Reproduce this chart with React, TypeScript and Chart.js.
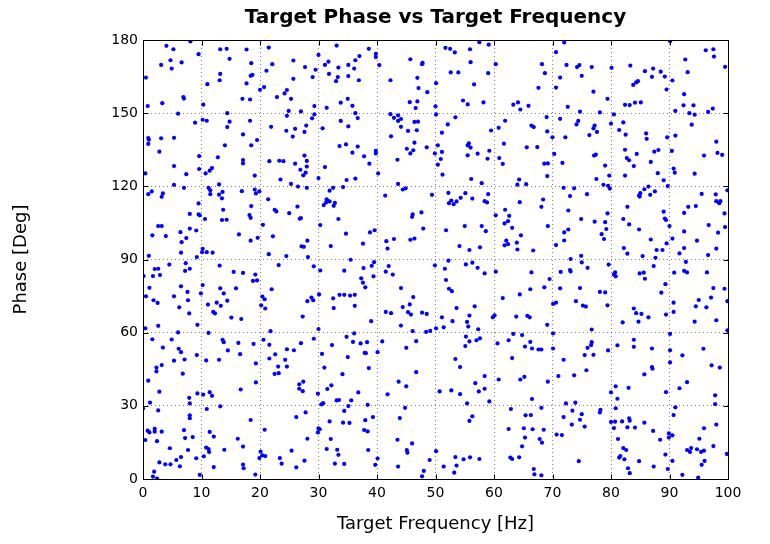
import React, { useEffect, useRef } from "react";
import { Chart, registerables } from "chart.js";

Chart.register(...registerables);

type P = [number, number];

const TITLE = "Target Phase vs Target Frequency";
const X_TITLE = "Target Frequency [Hz]";
const Y_TITLE = "Phase [Deg]";
const xTicks = [0, 10, 20, 30, 40, 50, 60, 70, 80, 90, 100];
const yTicks = [0, 30, 60, 90, 120, 150, 180];

// [frequency Hz, phase deg], grouped by region of the plot (top row = 120..180 deg)
const topBand0to25: P[] = [[4.0,177.6],[8.1,179.4],[5.2,176.2],[9.5,174.2],[4.7,171.7],[3.1,169.8],[6.6,170.8],[4.9,168.3],[0.5,164.6],[6.9,156.6],[7.0,156.0],[3.3,154.1],[0.8,152.9],[13.2,176.2],[14.3,176.4],[17.7,176.1],[14.8,172.3],[18.5,170.5],[13.2,166.1],[18.4,165.3],[18.7,165.7],[13.1,163.5],[11.0,161.9],[17.7,162.2],[17.0,155.9],[18.3,155.6],[10.3,153.5],[21.5,176.9],[22.1,170.1],[21.1,167.4],[20.0,159.6],[20.7,160.7],[22.9,156.6],[24.2,158.1],[24.6,159.5],[6.0,149.8],[8.9,146.1],[0.9,139.8],[1.0,139.1],[0.9,137.4],[3.1,139.7],[5.3,139.9],[2.8,134.2],[9.6,132.4],[5.3,128.3],[0.4,125.3],[7.4,125.0],[9.6,127.1],[5.3,120.6],[10.2,147.3],[10.9,146.9],[14.4,150.0],[14.8,146.5],[14.4,144.3],[18.3,146.9],[17.1,141.3],[19.5,139.0],[18.5,136.8],[14.0,136.8],[12.8,131.9],[17.1,130.8],[17.1,129.4],[11.8,127.5],[11.4,126.4],[10.7,125.3],[13.0,120.8],[19.1,124.4],[21.9,144.4],[24.6,148.9],[24.5,142.8],[21.6,130.3],[23.3,130.5],[24.0,130.3],[23.5,122.8]];
const topBand25to50: P[] = [[24.9,150.9],[25.3,155.9],[25.7,171.6],[25.7,164.1],[27.7,168.9],[29.0,164.8],[29.5,167.8],[30.0,173.9],[29.3,152.9],[27.0,150.7],[33.1,177.7],[31.1,169.8],[31.7,171.1],[33.4,168.7],[31.8,166.1],[33.3,164.8],[33.0,163.1],[35.1,169.8],[35.1,165.2],[36.3,171.7],[37.0,173.4],[36.1,168.3],[36.9,163.5],[38.6,176.4],[39.8,174.3],[39.8,173.0],[40.4,169.7],[31.4,152.2],[33.8,154.3],[35.0,155.9],[35.8,153.0],[36.3,150.0],[36.7,148.0],[33.8,146.8],[35.1,144.6],[30.7,143.8],[28.9,147.9],[27.9,144.9],[29.3,149.5],[27.6,142.3],[26.0,143.6],[25.6,140.4],[33.6,136.5],[34.7,137.2],[36.7,136.3],[35.8,133.8],[37.8,132.3],[38.7,129.3],[39.8,133.5],[39.8,134.5],[31.1,127.9],[30.0,123.4],[27.6,132.6],[26.0,129.3],[28.0,130.4],[28.0,128.1],[26.9,126.8],[27.8,125.6],[27.4,124.5],[25.3,121.0],[34.8,122.6],[36.3,123.2],[40.2,125.3],[42.3,163.5],[45.7,172.1],[47.7,170.1],[47.8,170.6],[46.9,164.5],[47.1,160.3],[48.6,158.6],[45.6,154.5],[46.9,154.8],[46.6,152.1],[42.3,149.6],[42.9,148.1],[43.6,149.1],[44.1,147.6],[43.6,146.8],[44.1,144.4],[46.4,146.4],[47.0,146.5],[45.3,142.7],[46.8,143.0],[42.4,140.5],[46.4,137.9],[48.5,136.0],[45.1,135.4],[46.2,134.8],[45.7,133.5],[43.5,130.9],[43.6,121.0]];
const topBand50to75: P[] = [[50.1,162.3],[50.0,152.8],[51.7,176.8],[52.5,176.4],[53.3,174.9],[55.9,176.2],[57.5,179.1],[59.1,178.1],[56.0,170.9],[52.6,166.7],[53.9,166.7],[59.0,166.4],[56.6,161.8],[54.7,155.2],[55.5,153.6],[58.2,154.4],[60.3,170.1],[68.2,170.1],[68.7,166.4],[67.6,160.4],[64.1,154.4],[63.3,153.5],[64.5,151.5],[65.9,153.0],[72.0,179.0],[70.6,175.0],[72.4,169.8],[74.6,169.7],[74.2,168.9],[75.0,165.3],[71.3,164.6],[70.6,160.5],[72.6,152.6],[74.7,150.6],[50.1,149.5],[53.4,148.3],[52.1,145.4],[51.1,142.0],[50.4,136.8],[51.1,134.1],[49.9,133.5],[50.9,131.2],[50.4,128.9],[51.2,124.8],[55.5,136.8],[55.7,137.6],[56.0,135.9],[55.5,132.7],[57.2,133.4],[56.1,123.0],[57.9,121.3],[58.9,131.3],[59.2,134.6],[59.5,142.9],[60.8,144.0],[61.9,146.9],[61.7,137.5],[60.9,131.6],[61.5,129.2],[65.6,136.0],[66.4,144.9],[66.8,144.3],[67.4,136.1],[69.0,148.4],[69.1,142.5],[70.0,140.1],[68.6,129.3],[69.2,129.4],[69.1,124.2],[64.3,122.8],[64.0,120.7],[65.5,120.9],[71.3,147.7],[72.2,140.1],[74.4,146.8],[74.1,145.4],[70.3,133.3],[71.7,129.6]];
const topBand75to100: P[] = [[76.7,168.9],[80.1,168.6],[77.0,158.8],[79.4,155.9],[78.1,150.3],[80.5,149.5],[90.1,179.5],[83.3,169.5],[85.8,167.2],[87.2,168.3],[88.5,167.0],[87.0,164.9],[89.2,165.0],[84.6,163.1],[84.3,162.6],[83.8,161.6],[89.5,159.7],[82.4,153.4],[83.2,153.3],[84.1,154.3],[85.1,154.4],[90.5,163.4],[96.2,175.8],[97.5,176.2],[97.6,173.2],[92.7,172.0],[93.1,166.8],[99.5,169.0],[92.5,157.8],[92.4,153.2],[94.1,153.2],[91.0,150.9],[93.4,150.0],[94.3,149.4],[96.6,150.5],[97.4,151.9],[80.0,145.7],[82.1,146.2],[81.4,143.1],[82.5,141.2],[76.3,141.0],[77.0,143.8],[77.2,144.9],[77.6,142.3],[77.1,132.6],[77.4,133.0],[79.0,128.5],[79.7,124.4],[77.5,123.0],[78.7,120.6],[79.5,120.2],[82.4,135.0],[82.7,131.6],[83.1,130.7],[83.9,128.3],[84.4,133.3],[86.0,141.7],[86.1,139.5],[87.4,134.2],[88.1,134.9],[86.8,130.0],[88.0,125.4],[89.0,122.5],[89.6,140.1],[91.0,140.8],[90.4,134.5],[90.7,127.3],[90.9,125.6],[93.8,145.3],[98.0,138.3],[98.2,133.7],[99.0,132.9],[95.9,132.6],[94.3,125.2],[82.4,124.4]];

const midBand0to25: P[] = [[0.9,116.8],[1.5,117.9],[3.2,115.7],[3.4,117.1],[7.0,119.4],[11.2,119.4],[11.5,118.4],[11.5,116.8],[13.0,116.6],[13.6,117.7],[13.5,115.1],[9.5,113.0],[8.0,108.7],[9.5,108.5],[9.7,108.1],[10.6,106.6],[13.7,110.4],[13.5,106.2],[14.3,106.3],[2.6,103.7],[3.2,103.7],[1.6,99.9],[3.9,99.6],[6.4,101.2],[8.0,102.7],[9.1,101.9],[7.4,98.8],[6.6,97.1],[6.5,92.8],[1.0,91.5],[10.2,94.4],[10.1,93.0],[10.9,93.0],[11.9,92.8],[9.2,91.0],[16.9,118.0],[19.1,118.7],[19.3,117.1],[19.9,117.9],[21.4,114.7],[18.5,111.9],[22.5,110.4],[22.8,109.7],[18.2,108.2],[18.4,107.1],[20.5,104.2],[16.4,100.3],[18.4,97.7],[19.6,98.9],[22.2,99.5],[21.5,92.2],[24.5,91.4],[4.5,87.9],[7.3,88.5],[7.2,85.3],[8.0,86.2],[2.0,86.1],[2.6,86.2],[1.7,83.2],[2.9,83.6],[0.1,83.2],[1.1,78.4],[0.5,74.9],[1.8,73.3],[2.5,72.2],[5.3,74.9],[6.5,79.0],[7.6,76.7],[7.7,73.3],[6.2,70.4],[7.9,67.9],[2.6,62.8],[0.4,61.8],[9.3,63.2],[13.1,87.5],[15.5,84.9],[17.1,84.5],[19.2,83.8],[18.8,81.2],[19.5,81.4],[10.2,79.5],[9.9,76.1],[13.2,78.2],[13.8,76.1],[15.9,78.2],[23.2,87.7],[22.0,77.8],[20.4,74.8],[20.8,73.7],[20.2,71.2],[20.9,69.9],[11.1,71.5],[12.6,72.3],[13.3,71.0],[14.4,73.1],[12.0,68.5],[12.3,67.9],[15.1,66.2],[16.8,65.6],[21.8,60.6]];
const midBand25to50: P[] = [[26.5,119.9],[28.0,119.4],[25.0,109.0],[26.4,111.7],[26.8,106.7],[27.0,107.0],[28.1,97.7],[27.1,95.4],[27.5,95.2],[28.2,91.0],[32.5,119.4],[31.9,118.2],[34.2,119.7],[31.4,114.7],[30.9,112.3],[31.3,113.4],[31.9,113.8],[32.8,113.2],[32.6,112.0],[33.4,106.6],[30.3,104.1],[34.7,100.6],[32.1,95.5],[37.6,96.5],[38.8,101.1],[39.6,102.0],[41.4,116.2],[44.4,118.7],[44.9,119.2],[49.4,116.5],[46.1,108.5],[46.0,107.5],[47.6,109.3],[47.9,102.7],[41.6,97.5],[42.9,98.4],[41.8,94.5],[45.7,98.1],[46.4,98.6],[29.2,87.2],[30.3,85.5],[28.1,72.9],[28.8,74.4],[29.1,73.3],[27.3,66.6],[30.1,75.7],[30.0,61.5],[35.5,89.9],[34.4,85.4],[37.7,86.5],[39.1,87.4],[39.5,88.9],[39.4,83.1],[37.3,82.3],[37.6,80.5],[38.0,78.6],[33.6,75.5],[34.4,75.5],[35.4,75.2],[36.2,75.5],[32.5,74.1],[32.6,70.1],[36.2,71.0],[39.0,64.7],[41.5,85.0],[42.0,87.3],[42.7,83.8],[44.1,78.3],[46.2,74.6],[45.6,71.6],[41.5,68.5],[42.4,68.0],[44.4,70.5],[45.3,68.4],[45.8,67.4],[47.7,68.2],[48.5,67.7],[44.1,62.9],[46.1,60.6],[48.4,60.3],[49.1,60.7]];
const midBand50to75: P[] = [[52.2,117.3],[52.3,113.1],[52.7,114.2],[53.1,112.7],[53.6,113.8],[54.3,115.3],[55.1,117.2],[56.3,115.0],[59.0,116.8],[58.4,113.9],[58.8,113.4],[51.8,102.0],[55.0,103.7],[57.9,103.7],[58.6,101.6],[54.1,95.5],[55.8,93.9],[57.6,95.0],[64.4,113.5],[68.4,114.6],[68.1,111.6],[60.3,108.1],[61.9,110.4],[62.6,107.9],[62.4,105.7],[61.8,104.8],[63.1,103.0],[69.2,103.7],[64.6,99.9],[62.1,97.7],[61.8,95.8],[62.4,96.3],[63.9,96.9],[64.0,94.1],[66.7,93.7],[71.9,119.4],[73.7,119.2],[73.0,116.0],[72.7,110.1],[74.9,106.6],[72.7,102.3],[72.0,101.1],[72.0,97.8],[70.6,95.9],[74.9,91.5],[49.9,87.6],[52.2,89.5],[51.6,86.2],[51.8,81.6],[52.3,78.0],[52.8,77.0],[55.2,88.0],[56.3,88.7],[57.2,86.6],[58.4,84.3],[56.7,70.8],[53.6,70.1],[51.1,66.3],[52.9,64.7],[51.4,62.2],[50.1,61.8],[55.8,67.0],[55.4,64.4],[55.6,62.5],[57.3,61.4],[59.8,66.3],[60.1,67.1],[60.3,85.0],[66.4,84.7],[69.5,82.0],[64.4,75.7],[66.2,77.8],[68.6,78.6],[61.5,74.2],[63.8,66.6],[65.7,66.9],[66.1,66.3],[69.1,63.2],[73.1,90.2],[75.0,88.8],[71.4,84.9],[73.0,85.7],[73.1,85.1],[71.3,78.2],[74.7,78.3],[74.0,72.9],[70.6,72.3],[70.1,71.8]];
const midBand75to100: P[] = [[79.8,119.1],[75.9,116.8],[79.4,108.9],[77.2,105.5],[79.0,105.3],[79.2,102.5],[78.4,100.4],[78.8,98.4],[85.0,117.2],[84.8,116.2],[84.9,115.8],[85.7,118.8],[86.4,119.9],[87.5,117.9],[86.7,116.5],[89.7,120.1],[82.8,111.6],[82.1,106.6],[83.1,104.4],[89.0,109.6],[89.2,106.8],[89.4,106.2],[90.0,103.7],[84.8,102.3],[86.8,98.2],[89.5,96.6],[87.8,93.9],[88.8,93.9],[87.6,90.7],[85.4,91.4],[82.2,94.7],[82.8,92.4],[90.5,98.6],[92.5,109.1],[93.2,111.6],[94.5,111.9],[95.5,116.9],[97.9,116.7],[98.0,113.9],[98.5,113.1],[98.7,113.9],[99.9,118.4],[99.4,108.9],[99.5,103.3],[98.3,101.0],[96.7,104.1],[92.5,101.5],[94.7,97.7],[92.5,94.7],[91.7,92.5],[96.6,91.8],[98.0,94.5],[75.2,71.1],[75.7,70.7],[76.0,86.6],[79.6,87.9],[80.7,84.7],[80.8,83.1],[80.5,83.9],[78.1,76.7],[79.0,76.5],[79.4,71.2],[76.7,61.3],[84.9,84.3],[85.6,84.6],[85.8,82.1],[87.3,87.3],[89.3,79.9],[88.6,76.4],[83.9,69.9],[84.3,68.0],[85.2,67.7],[86.4,66.3],[82.0,64.2],[84.7,64.5],[89.4,67.4],[92.8,89.0],[90.8,84.6],[92.5,85.3],[93.0,84.7],[96.4,84.7],[90.7,72.3],[90.7,68.5],[95.0,73.4],[94.5,70.8],[96.3,70.4],[97.1,74.4],[97.5,78.3],[99.4,78.0],[99.9,72.9],[94.3,64.5],[98.0,65.1],[99.9,60.9]];

const lowBand0to25: P[] = [[6.0,60.1],[11.2,59.9],[1.6,57.3],[4.9,57.2],[3.4,53.9],[6.1,53.4],[6.5,52.0],[7.1,49.0],[5.3,48.5],[3.2,46.7],[2.3,45.7],[2.3,44.1],[6.8,43.2],[0.9,40.3],[9.2,50.8],[2.8,35.8],[7.9,33.3],[9.3,35.1],[8.0,31.0],[1.2,31.3],[0.0,28.9],[2.6,28.1],[13.6,57.1],[13.8,56.1],[16.3,55.8],[18.9,55.4],[14.5,52.7],[16.6,51.2],[10.8,48.6],[13.0,48.9],[19.3,47.4],[19.3,39.6],[16.7,36.7],[11.4,35.6],[10.3,34.6],[11.8,34.1],[20.6,57.1],[21.6,55.0],[24.6,53.2],[22.6,51.1],[21.6,49.4],[24.3,48.9],[23.1,46.1],[24.6,46.1],[22.5,43.1],[23.2,43.4],[10.9,28.7],[13.2,29.8],[18.4,24.2],[20.8,20.2],[8.0,26.1],[8.0,24.9],[0.8,19.8],[1.1,19.1],[2.0,20.6],[2.0,19.4],[3.2,19.4],[0.4,16.0],[2.4,15.5],[7.0,20.0],[7.2,16.8],[8.5,17.2],[11.4,19.3],[12.1,17.4],[16.2,16.5],[17.1,13.3],[4.6,12.6],[7.7,11.9],[10.8,12.9],[11.2,12.3],[11.3,11.1],[13.9,12.0],[20.1,11.2],[20.4,9.7],[20.9,9.4],[19.9,8.6],[23.4,8.6],[23.7,6.3],[6.5,9.0],[5.7,7.8],[4.7,6.0],[3.8,6.0],[2.8,6.8],[6.3,5.2],[9.1,8.5],[10.4,9.3],[12.1,4.9],[17.1,5.9],[17.2,4.4],[19.2,1.8],[9.7,1.7],[1.9,3.0],[1.7,1.0],[2.4,0.2]];
const lowBand25to50: P[] = [[27.0,55.7],[29.2,57.5],[25.8,52.8],[26.7,38.8],[27.4,39.9],[26.7,37.0],[27.3,36.0],[29.9,35.0],[34.8,58.3],[36.1,59.7],[35.9,56.2],[37.2,55.6],[38.3,56.1],[37.9,51.7],[38.1,51.6],[32.3,54.9],[30.6,51.3],[35.0,50.0],[31.0,45.7],[38.6,45.5],[34.1,43.0],[32.2,38.4],[31.5,36.9],[36.8,35.5],[35.6,32.2],[33.1,32.2],[33.5,32.4],[30.5,30.6],[30.8,31.1],[35.1,29.9],[38.4,30.4],[40.1,52.0],[40.9,56.4],[45.0,53.8],[46.7,56.5],[46.7,43.8],[43.7,39.9],[45.0,38.0],[41.8,34.7],[27.8,27.3],[26.2,25.4],[28.1,16.5],[25.4,11.6],[27.6,7.5],[26.2,4.8],[34.4,27.9],[31.9,23.6],[34.2,23.1],[35.3,23.0],[38.0,24.1],[39.3,25.4],[30.0,20.8],[30.2,20.4],[29.9,19.1],[32.1,16.4],[37.8,20.1],[38.4,19.5],[31.4,12.3],[33.2,12.0],[33.4,9.9],[38.5,11.9],[32.8,6.3],[34.4,6.2],[40.1,8.4],[39.7,5.8],[44.8,29.2],[43.9,25.0],[43.5,16.1],[46.0,14.6],[45.1,11.9],[45.2,10.8],[43.6,5.1],[49.0,7.8],[48.0,3.3],[47.7,1.1]];
const lowBand50to75: P[] = [[55.2,58.4],[55.8,56.4],[55.1,54.5],[57.0,56.9],[57.6,57.7],[53.4,49.2],[54.2,45.9],[58.4,42.2],[56.8,39.3],[58.4,37.0],[57.4,35.9],[50.7,35.9],[52.7,36.3],[54.2,34.8],[55.4,31.0],[59.2,31.8],[63.3,59.5],[64.8,59.0],[62.5,56.9],[60.6,55.6],[66.2,56.2],[65.3,54.3],[66.5,53.5],[67.6,53.1],[68.1,53.1],[70.1,59.7],[70.1,53.5],[63.1,49.6],[60.8,40.8],[64.5,40.8],[65.2,41.9],[69.2,39.9],[66.5,32.8],[71.9,48.9],[71.0,42.2],[73.7,42.5],[72.3,31.0],[73.9,31.3],[62.9,28.7],[65.4,26.1],[66.3,26.2],[68.1,29.2],[62.5,20.5],[65.1,20.8],[66.6,20.4],[68.5,20.2],[65.3,17.0],[67.8,16.4],[68.2,14.9],[64.8,13.4],[62.8,8.8],[63.1,8.2],[64.3,8.9],[66.8,4.1],[66.9,1.9],[68.1,1.5],[50.1,11.4],[53.4,9.0],[54.8,8.1],[55.9,8.9],[57.5,8.2],[51.4,5.1],[53.6,5.5],[53.2,2.6],[55.8,23.8],[56.3,25.7],[71.9,25.4],[73.4,28.0],[75.0,26.6],[74.7,24.3],[73.3,22.3],[70.7,18.2],[71.6,18.0],[74.5,7.3]];
const lowBand75to100: P[] = [[75.5,50.8],[76.0,53.8],[76.6,54.9],[76.7,56.1],[77.0,50.9],[75.8,44.6],[79.5,52.7],[81.1,54.8],[83.9,57.1],[83.9,54.2],[87.0,53.5],[90.1,59.5],[90.1,52.8],[90.1,47.8],[87.0,45.9],[87.1,45.2],[85.7,42.9],[80.8,38.0],[83.0,37.4],[80.0,35.5],[81.1,32.9],[89.4,35.6],[92.2,50.7],[95.8,53.4],[97.2,46.6],[98.6,45.7],[93.0,39.7],[91.7,37.2],[97.8,34.3],[97.8,30.7],[75.5,21.5],[78.2,28.4],[78.1,27.3],[80.8,29.0],[80.0,23.4],[80.7,23.5],[81.9,23.6],[83.1,24.9],[83.2,23.9],[80.5,20.9],[82.8,21.2],[84.1,21.1],[85.7,23.1],[87.2,19.7],[88.4,16.1],[81.2,16.4],[82.1,12.7],[82.6,11.9],[81.6,9.4],[81.4,8.8],[82.3,8.1],[84.8,7.3],[87.3,5.1],[82.9,4.4],[83.2,2.4],[89.3,10.0],[89.7,4.1],[89.9,18.7],[89.9,17.0],[90.5,17.9],[91.0,29.4],[90.7,26.2],[90.5,7.4],[92.2,1.7],[94.9,0.6],[93.0,11.9],[93.7,12.7],[93.5,11.1],[94.7,12.2],[95.4,11.1],[95.9,11.6],[95.1,16.5],[95.9,20.8],[96.0,7.4],[95.5,5.8],[97.5,13.5],[98.0,22.3],[99.8,10.3]];

const FONT = "'DejaVu Sans', 'Liberation Sans', sans-serif";

const framePlugin = {
  id: "frame",
  afterDatasetsDraw(chart: any) {
    const { ctx, chartArea: a, scales } = chart;
    const x0 = Math.floor(a.left) + 0.5;
    const x1 = Math.floor(a.right) + 0.5;
    const y0 = Math.floor(a.top) + 0.5;
    const y1 = Math.floor(a.bottom) + 0.5;
    const tl = 5;
    ctx.save();
    ctx.strokeStyle = "#000";
    ctx.lineWidth = 1;
    ctx.setLineDash([]);
    ctx.beginPath();
    for (const v of xTicks) {
      const px = Math.round(scales.x.getPixelForValue(v)) + 0.5;
      ctx.moveTo(px, y1);
      ctx.lineTo(px, y1 - tl);
      ctx.moveTo(px, y0);
      ctx.lineTo(px, y0 + tl);
    }
    for (const v of yTicks) {
      const py = Math.round(scales.y.getPixelForValue(v)) + 0.5;
      ctx.moveTo(x0, py);
      ctx.lineTo(x0 + tl, py);
      ctx.moveTo(x1, py);
      ctx.lineTo(x1 - tl, py);
    }
    ctx.stroke();
    ctx.strokeRect(x0, y0, x1 - x0, y1 - y0);
    ctx.restore();
  },
};

export default function App() {
  const ref = useRef<HTMLCanvasElement>(null);
  useEffect(() => {
    document.body.style.margin = "0";
    const all: P[] = [
      ...topBand0to25, ...topBand25to50, ...topBand50to75, ...topBand75to100,
      ...midBand0to25, ...midBand25to50, ...midBand50to75, ...midBand75to100,
      ...lowBand0to25, ...lowBand25to50, ...lowBand50to75, ...lowBand75to100,
    ];
    const data = all.map(([x, y]) => ({ x, y }));
    const gridColor = "rgba(0,0,0,0.5)";
    const chart = new Chart(ref.current as HTMLCanvasElement, {
      type: "scatter",
      data: {
        datasets: [
          {
            data,
            pointRadius: 2.1,
            pointHoverRadius: 2.1,
            pointBackgroundColor: "#0000ff",
            pointBorderWidth: 0,
          },
        ],
      },
      options: {
        responsive: false,
        animation: false,
        events: [],
        layout: { padding: { left: 0, right: 42, top: 0, bottom: 0 } },
        plugins: {
          legend: { display: false },
          tooltip: { enabled: false },
          title: {
            display: true,
            text: TITLE,
            fullSize: false,
            color: "#000",
            font: { family: FONT, size: 20, weight: "bold" },
            padding: { top: 6, bottom: 10 },
          },
        },
        scales: {
          x: {
            type: "linear",
            min: 0,
            max: 100,
            afterFit: (s: any) => {
              s.height = 65;
            },
            afterBuildTicks: (s: any) => {
              s.ticks = xTicks.map((v) => ({ value: v }));
            },
            ticks: {
              color: "#000",
              font: { family: FONT, size: 14 },
              padding: 6,
              maxRotation: 0,
              autoSkip: false,
            },
            grid: { color: gridColor, lineWidth: 1, drawTicks: false },
            border: { display: false, dash: [1, 3] },
            title: {
              display: true,
              text: X_TITLE,
              color: "#000",
              font: { family: FONT, size: 18 },
              padding: { top: 0, bottom: 9 },
            },
          },
          y: {
            type: "linear",
            min: 0,
            max: 180,
            afterFit: (s: any) => {
              s.width = 143;
            },
            afterBuildTicks: (s: any) => {
              s.ticks = yTicks.map((v) => ({ value: v }));
            },
            ticks: {
              color: "#000",
              font: { family: FONT, size: 14 },
              padding: 5,
              autoSkip: false,
            },
            grid: { color: gridColor, lineWidth: 1, drawTicks: false },
            border: { display: false, dash: [1, 3] },
            title: {
              display: true,
              text: Y_TITLE,
              color: "#000",
              font: { family: FONT, size: 18 },
              padding: { top: 11, bottom: 0 },
            },
          },
        },
      } as any,
      plugins: [framePlugin],
    });
    return () => chart.destroy();
  }, []);
  return (
    <canvas
      ref={ref}
      width={770}
      height={544}
      style={{ display: "block", width: 770, height: 544 }}
    />
  );
}
